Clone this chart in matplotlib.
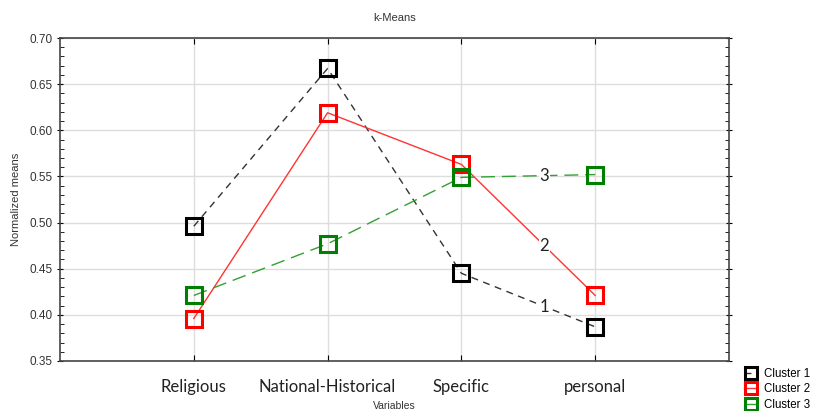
import matplotlib
matplotlib.use("Agg")
import matplotlib.pyplot as plt
from matplotlib.ticker import MultipleLocator

categories = ["Religious", "National-Historical", "Specific", "personal"]
cluster1 = [0.496, 0.667, 0.445, 0.387]
cluster2 = [0.396, 0.619, 0.563, 0.421]
cluster3 = [0.421, 0.477, 0.549, 0.552]
series_names = ["Cluster 1", "Cluster 2", "Cluster 3"]
inline_labels = ["1", "2", "3"]

plt.rcParams['font.family'] = ['Liberation Sans', 'DejaVu Sans']

fig = plt.figure(figsize=(8.14, 4.11), dpi=100)
ax = fig.add_axes([0.0737, 0.1217, 0.8219, 0.7858])

xs = list(range(1, len(categories) + 1))
styles = [
    dict(color="#333333", linestyle=(0, (5, 4)), mec="black"),
    dict(color="#ff3333", linestyle="-", mec="red"),
    dict(color="#33a033", linestyle=(0, (10, 5)), mec="green"),
]
handles = []
for vals, st, name, lab in zip([cluster1, cluster2, cluster3], styles, series_names, inline_labels):
    h, = ax.plot(xs, vals, color=st["color"], linestyle=st["linestyle"], lw=1.0,
                 marker="s", markersize=11, mfc="none", mec=st["mec"], mew=2.2,
                 label=name, zorder=3)
    handles.append(h)
    t = 0.62
    lx = xs[2] + t * (xs[3] - xs[2])
    ly = vals[2] + t * (vals[3] - vals[2])
    ax.text(lx, ly, lab, fontsize=12, family=["Lato", "DejaVu Sans"], ha="center", va="center",
            color="#222222", zorder=4,
            bbox=dict(boxstyle="square,pad=0.05", fc="white", ec="none"))

ax.set_xlim(0, len(categories) + 1)
ax.set_ylim(0.35, 0.70)
ax.set_xticks(xs)
ax.set_xticklabels(categories, fontsize=12, family=["Lato", "DejaVu Sans"], color="#222222")
ax.yaxis.set_major_locator(MultipleLocator(0.05))
ax.yaxis.set_minor_locator(MultipleLocator(0.01))
ax.set_yticklabels([f"{v:.2f}" for v in ax.get_yticks()])
ax.tick_params(axis="y", labelsize=8.5, labelcolor="#333333", direction="inout", length=5, right=True, pad=3)
ax.tick_params(axis="y", which="minor", direction="in", length=3, right=True)
ax.tick_params(axis="x", direction="in", length=4, top=True, pad=13)
ax.grid(True, color="#dddddd", lw=1.0, zorder=0)
ax.set_axisbelow(True)
for s in ax.spines.values():
    s.set_color("#444444")
    s.set_linewidth(1.2)

ax.set_title("k-Means", fontsize=8, color="#333333", pad=12)
ax.set_ylabel("Normalized means", fontsize=8, color="#333333", labelpad=6)
ax.set_xlabel("Variables", fontsize=7.5, color="#333333", labelpad=4)

fig.legend(handles=handles, loc="upper left", bbox_to_anchor=(0.906, 0.122),
           frameon=False, fontsize=8.3, handlelength=1.1, handletextpad=0.6,
           labelspacing=0.3, markerscale=0.75, borderpad=0.1)

fig.savefig("out.png", dpi=100)
